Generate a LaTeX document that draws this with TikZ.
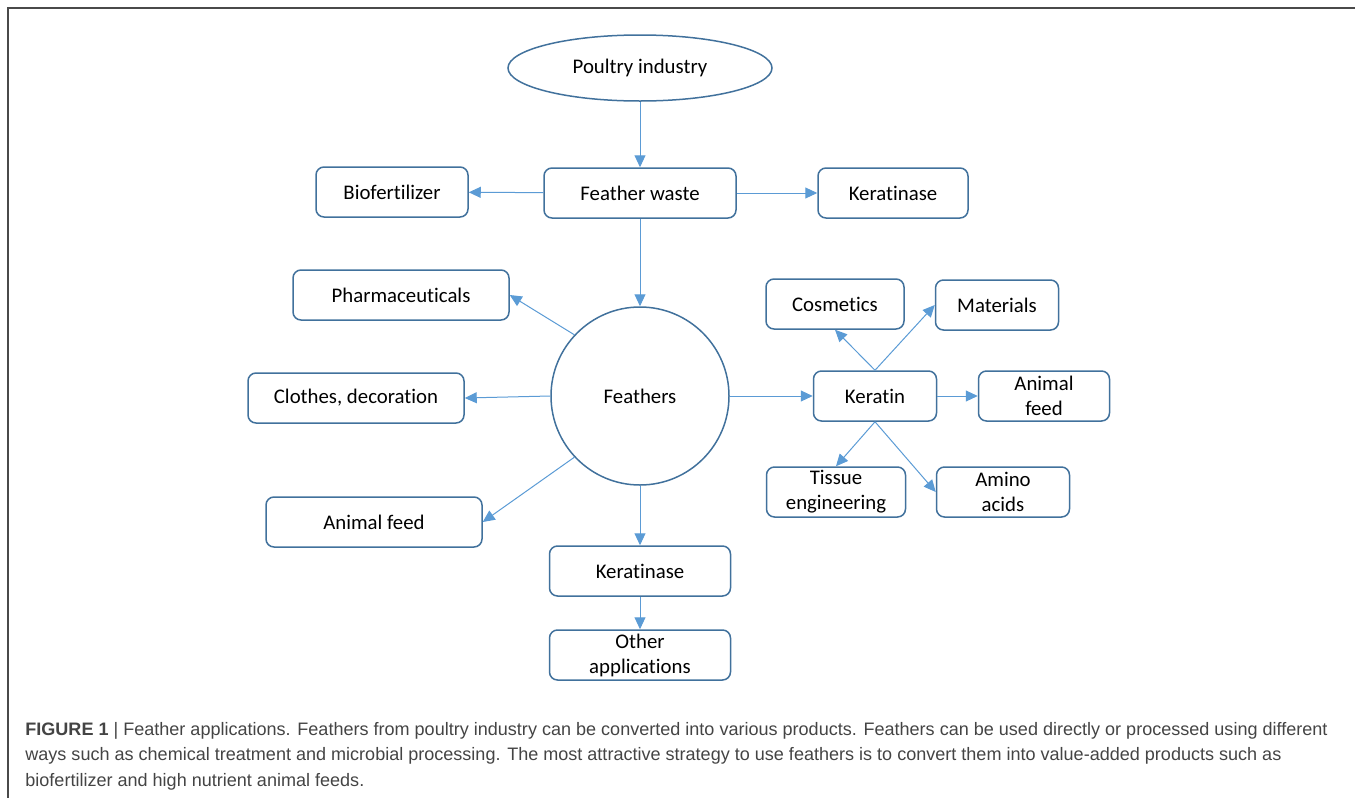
\documentclass[tikz,border=0pt]{standalone}
\usepackage{fontspec}
\setmainfont[Ligatures=NoCommon]{Carlito}
\newfontfamily\capfont{Liberation Sans}
\usetikzlibrary{arrows.meta,shapes.geometric}

\begin{document}
\begin{tikzpicture}[x=0.5pt,y=-0.5pt,
  mybox/.style={draw=boxblue,line width=0.75pt,rounded corners=4pt,minimum height=25pt,inner sep=0pt,align=center,font=\fontsize{10.4}{12.5}\selectfont},
  myarrow/.style={draw=arrowblue,line width=0.5pt,-{Triangle[length=6pt,width=5.5pt]}},
  captext/.style={anchor=base west,inner sep=0pt,text=capgray,font=\capfont\fontsize{9.02}{12.75}\selectfont}]
\definecolor{boxblue}{HTML}{41719C}
\definecolor{arrowblue}{HTML}{5B9BD5}
\definecolor{framegray}{HTML}{4A4A4A}
\definecolor{capgray}{HTML}{444444}
\useasboundingbox (0,0) rectangle (1355,798);
\draw[framegray,line width=0.75pt] (8,798) -- (8,8) -- (1355,8);

\node[ellipse,draw=boxblue,line width=0.75pt,minimum width=132pt,minimum height=33pt,inner sep=0pt,font=\fontsize{10.4}{12.5}\selectfont] (poultry) at (640,68) {Poultry industry};
\node[mybox,minimum width=96pt] (waste) at (640,193) {Feather waste};
\node[mybox,minimum width=76pt] (biofert) at (392,192) {Biofertilizer};
\node[mybox,minimum width=75pt] (keratinaseA) at (893,193) {Keratinase};
\node[circle,draw=boxblue,line width=0.75pt,minimum size=89pt,inner sep=0pt,font=\fontsize{10.4}{12.5}\selectfont] (feathers) at (640,396) {Feathers};
\node[mybox,minimum width=108pt] (pharma) at (401,295) {Pharmaceuticals};
\node[mybox,minimum width=108pt] (clothes) at (356,398) {Clothes, decoration};
\node[mybox,minimum width=108pt] (feedA) at (374,522) {Animal feed};
\node[mybox,minimum width=90.5pt] (keratinaseB) at (640,571) {Keratinase};
\node[mybox,minimum width=90.5pt] (other) at (640,655) {Other\\applications};
\node[mybox,minimum width=61.5pt] (keratin) at (875,396) {Keratin};
\node[mybox,minimum width=69pt] (cosmetics) at (835,304) {Cosmetics};
\node[mybox,minimum width=61.5pt] (materials) at (997,305) {Materials};
\node[mybox,minimum width=65.5pt] (feedB) at (1044,396) {Animal\\feed};
\node[mybox,minimum width=69.5pt] (tissue) at (836,492) {Tissue\\engineering};
\node[mybox,minimum width=66.5pt] (amino) at (1003,492) {Amino\\acids};

\foreach \from/\to in {poultry/waste,waste/biofert,waste/keratinaseA,waste/feathers,
  feathers.137/pharma.east,feathers.west/clothes.east,feathers.223/feedA.east,
  feathers/keratinaseB,keratinaseB/other,feathers.east/keratin.west,
  keratin.north/cosmetics.south,keratin.north/materials.west,keratin.east/feedB.west,
  keratin.south/tissue.north,keratin.south/amino.west}
  \draw[myarrow] (\from) -- (\to);

\node[captext] (capA) at (25,735) {\textbf{FIGURE 1} | Feather applications. Feathers from poultry industry can be converted into various products. Feathers can be used directly or processed using different};
\node[captext] (capB) at (25,760.5) {ways such as chemical treatment and microbial processing. The most attractive strategy to use feathers is to convert them into value-added products such as};
\node[captext] (capC) at (25,786) {biofertilizer and high nutrient animal feeds.};
\end{tikzpicture}
\end{document}
